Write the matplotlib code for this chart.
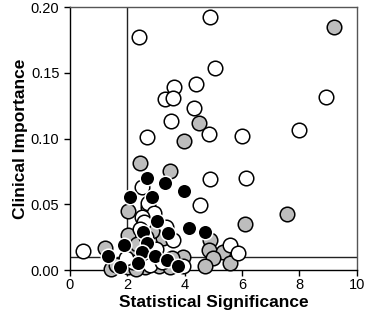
import matplotlib
matplotlib.use("Agg")
import matplotlib.pyplot as plt

# open (white) circles
open_x = [4.88, 2.41, 5.05, 4.40, 3.63, 3.31, 3.60, 4.32, 3.52, 4.85, 2.68,
          8.94, 5.99, 7.98, 4.87, 6.12, 4.53, 0.46, 2.50, 2.73, 2.73, 2.94,
          2.50, 2.59, 3.60, 5.57, 5.85, 3.95, 2.20, 2.80, 3.20, 1.95, 3.00,
          2.65, 2.45, 3.35]
open_y = [0.1926, 0.1774, 0.1534, 0.1414, 0.1389, 0.1298, 0.1308, 0.1229, 0.1133, 0.1034, 0.1009,
          0.1318, 0.1021, 0.1065, 0.0694, 0.0697, 0.0494, 0.0147, 0.0634, 0.0482, 0.0507, 0.0436,
          0.0405, 0.0363, 0.0228, 0.0188, 0.0127, 0.0030, 0.0060, 0.0040, 0.0060, 0.0090, 0.0160,
          0.0250, 0.0310, 0.0330]

# grey circles
grey_x = [9.20, 4.49, 3.96, 2.46, 3.48, 2.04, 2.03, 3.25, 1.21, 1.44, 2.03,
          3.95, 7.58, 6.10, 4.88, 4.84, 5.34, 4.98, 4.71, 5.57, 1.60, 2.60,
          3.10, 2.20, 3.55, 2.35, 2.85, 2.30, 3.50]
grey_y = [0.1850, 0.1120, 0.0979, 0.0816, 0.0750, 0.0451, 0.0266, 0.0240, 0.0170, 0.0008, 0.0025,
          0.0100, 0.0426, 0.0350, 0.0225, 0.0155, 0.0140, 0.0089, 0.0030, 0.0053, 0.0040, 0.0020,
          0.0030, 0.0120, 0.0090, 0.0200, 0.0300, 0.0010, 0.0020]

# black circles
black_x = [2.67, 3.32, 3.98, 2.11, 2.87, 3.02, 2.55, 3.43, 4.16, 4.72, 1.89,
           2.70, 1.32, 2.50, 2.95, 3.37, 3.77, 1.74, 2.38]
black_y = [0.0697, 0.0664, 0.0600, 0.0553, 0.0557, 0.0375, 0.0291, 0.0280, 0.0323, 0.0287, 0.0192,
           0.0205, 0.0106, 0.0135, 0.0106, 0.0080, 0.0028, 0.0022, 0.0054]

x_ticks = [0, 2, 4, 6, 8, 10]
y_ticks = [0.00, 0.05, 0.10, 0.15, 0.20]
x_cut = 2.0
y_cut = 0.01

plt.rcParams['font.family'] = ['Liberation Sans', 'DejaVu Sans']

fig = plt.figure(figsize=(3.66, 3.23), dpi=100)
ax = fig.add_axes([0.191, 0.164, 0.784, 0.814])

ms = 110
ax.axvline(x_cut, color='#222222', lw=1.0, zorder=1)
ax.axhline(y_cut, color='#222222', lw=1.0, zorder=1)
ax.scatter(grey_x, grey_y, s=ms, facecolor='#bdbdbd', edgecolor='black',
           linewidth=1.1, zorder=3, clip_on=False)
ax.scatter(open_x, open_y, s=ms, facecolor='white', edgecolor='black',
           linewidth=1.1, zorder=4, clip_on=False)
ax.scatter(black_x, black_y, s=ms, facecolor='black', edgecolor='white',
           linewidth=1.1, zorder=5, clip_on=False)

ax.set_xlim(0, 10)
ax.set_ylim(0, 0.2)
ax.set_xticks(x_ticks)
ax.set_yticks(y_ticks)
ax.set_yticklabels([f'{v:.2f}' for v in y_ticks])
ax.tick_params(direction='out', length=4, width=1, labelsize=10.5, colors='black')
ax.tick_params(axis='x', pad=2)
ax.spines['left'].set_color('black')
ax.spines['bottom'].set_color('black')
ax.spines['top'].set_color('#555555')
ax.spines['right'].set_color('#555555')
for sp in ax.spines.values():
    sp.set_linewidth(1.0)

ax.set_xlabel('Statistical Significance', fontsize=12.5, fontweight='bold', labelpad=2)
ax.set_ylabel('Clinical Importance', fontsize=12.5, fontweight='bold', labelpad=2)

fig.savefig('out.png', dpi=100)
